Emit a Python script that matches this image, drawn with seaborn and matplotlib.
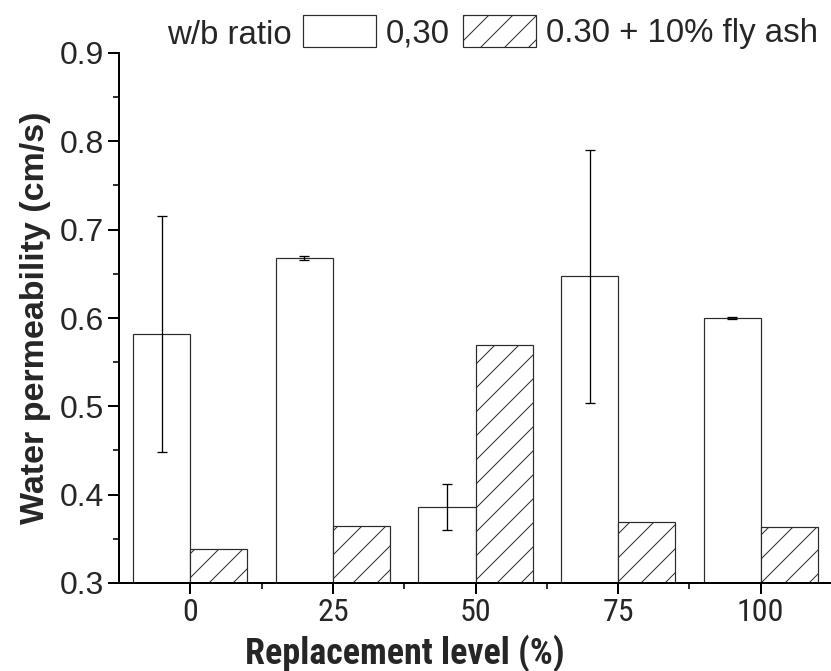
import matplotlib
matplotlib.use("Agg")
import matplotlib.pyplot as plt
import matplotlib.font_manager as fm
from matplotlib.patches import Patch
from matplotlib.ticker import MultipleLocator, FixedLocator
import seaborn as sns
import pandas as pd

# Replacement levels and measured water permeability (cm/s)
levels = ["0", "25", "50", "75", "100"]
series = ["0,30", "0.30 + 10% fly ash"]
perm_plain = [0.582, 0.668, 0.386, 0.647, 0.600]
err_plain = [0.134, 0.002, 0.026, 0.143, 0.001]
perm_flyash = [0.339, 0.365, 0.569, 0.369, 0.363]

df = pd.DataFrame({
    "level": levels * 2,
    "mix": [series[0]] * len(levels) + [series[1]] * len(levels),
    "perm": perm_plain + perm_flyash,
})

DPI = 72
W, H = 831, 671
PT = 72 / DPI  # pixel -> point


def narrow_font():
    """Pick a condensed sans-serif if one is installed."""
    names = {f.name for f in fm.fontManager.ttflist}
    for fam in ("Liberation Sans Narrow", "Arial Narrow", "Roboto Condensed",
                "Open Sans Condensed", "Noto Sans Condensed",
                "DejaVu Sans Condensed"):
        if fam in names:
            return {"family": fam}, True
    for fam in ("Noto Sans", "Open Sans", "Roboto", "DejaVu Sans"):
        for f in fm.fontManager.ttflist:
            if f.name == fam and str(f.stretch) in ("condensed",
                                                   "semi-condensed"):
                return {"family": fam, "stretch": f.stretch}, True
    return {"family": "Liberation Sans"}, False


NARROW, HAVE_NARROW = narrow_font()

sns.set_theme(style="ticks")
plt.rcParams["font.family"] = ["Liberation Sans", "DejaVu Sans"]
plt.rcParams["hatch.linewidth"] = 1.0
plt.rcParams["hatch.color"] = "#3a3a3a"

fig = plt.figure(figsize=(W / DPI, H / DPI), dpi=DPI)
x0, y0, x1, y1 = 119, 53, 832, 583
ax = fig.add_axes([x0 / W, 1 - y1 / H, (x1 - x0) / W, (y1 - y0) / H])

sns.barplot(data=df, x="level", y="perm", hue="mix", order=levels,
            hue_order=series, width=0.8, errorbar=None, legend=False,
            palette=["white", "white"], edgecolor="#2b2b2b",
            linewidth=1.2 * PT, ax=ax)

# hatch the fly-ash series
for bar in ax.containers[1]:
    bar.set_hatch("/")

# error bars on the plain series
xs = [b.get_x() + b.get_width() / 2 for b in ax.containers[0]]
ax.errorbar(xs, perm_plain, yerr=err_plain, fmt="none", ecolor="black",
            elinewidth=1.3 * PT, capsize=5 * PT, capthick=1.3 * PT,
            zorder=5)

ax.set_ylim(0.3, 0.9)
ax.set_xlim(-0.5, 4.5)
ax.yaxis.set_minor_locator(MultipleLocator(0.05))
ax.xaxis.set_minor_locator(FixedLocator([0.5, 1.5, 2.5, 3.5]))
ax.set_yticks([0.3, 0.4, 0.5, 0.6, 0.7, 0.8, 0.9])
ax.set_yticklabels(["0.3", "0.4", "0.5", "0.6", "0.7", "0.8", "0.9"],
                   fontsize=32 * PT)
ax.set_xticks(range(len(levels)))
ax.set_xticklabels(levels, fontsize=(32 if HAVE_NARROW else 28) * PT,
                   **NARROW)

for side in ("top", "right"):
    ax.spines[side].set_visible(False)
for side in ("left", "bottom"):
    ax.spines[side].set_linewidth(2 * PT)
    ax.spines[side].set_color("black")
ax.tick_params(which="major", length=11 * PT, width=2 * PT, color="black",
               pad=4 * PT)
ax.tick_params(which="minor", length=6 * PT, width=1.6 * PT, color="black")

ax.set_xlabel("Replacement level (%)",
              fontsize=(36 if HAVE_NARROW else 31) * PT, fontweight="bold",
              **NARROW)
ax.xaxis.set_label_coords((405 - x0) / (x1 - x0), (y1 - 634) / (y1 - y0))
ax.set_ylabel("Water permeability (cm/s)", fontsize=34 * PT,
              fontweight="bold")
ax.yaxis.set_label_coords((20 - x0) / (x1 - x0), 0.5)
ax.yaxis.label.set_va("top")

handles = [Patch(facecolor="white", edgecolor="#2b2b2b", linewidth=1.2 * PT),
           Patch(facecolor="white", edgecolor="#2b2b2b", linewidth=1.2 * PT,
                 hatch="/")]
fig.text(167 / W, 1 - 35 / H, "w/b ratio", fontsize=33 * PT,
         ha="left", va="center")
fig.legend(handles, series, loc="center left",
           bbox_to_anchor=(303 / W, 1 - 32 / H), ncol=2, frameon=False,
           fontsize=33 * PT, borderpad=0, borderaxespad=0,
           handlelength=2.2, handleheight=1.1, handletextpad=0.3,
           columnspacing=0.42)

fig.savefig("out.png", dpi=DPI)
